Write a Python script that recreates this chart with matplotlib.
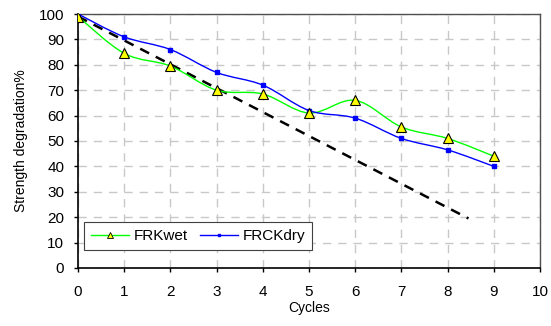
import matplotlib
matplotlib.use("Agg")
import matplotlib.pyplot as plt
from matplotlib.path import Path
from matplotlib.patches import PathPatch
from matplotlib.lines import Line2D
import numpy as np

cycles = [0, 1, 2, 3, 4, 5, 6, 7, 8, 9]
frk_wet = [99, 84.5, 79.5, 70, 68.5, 61, 66, 55.5, 51, 44]
frck_dry = [100, 91, 86, 77, 72, 62, 59, 51, 46.5, 40]
trend_x = [0, 8.45]
trend_y = [99, 19.5]

plt.rcParams['font.family'] = ['Liberation Sans', 'DejaVu Sans']


def smooth_path(xs, ys, t=1 / 6):
    # excel-like smoothed line: cubic bezier through every point
    pts = np.column_stack([xs, ys]).astype(float)
    n = len(pts)
    verts = [pts[0]]
    codes = [Path.MOVETO]
    for i in range(n - 1):
        p0 = pts[i - 1] if i > 0 else pts[i]
        p1 = pts[i]
        p2 = pts[i + 1]
        p3 = pts[i + 2] if i + 2 < n else pts[i + 1]
        c1 = p1 + (p2 - p0) * t
        c2 = p2 - (p3 - p1) * t
        verts += [c1, c2, p2]
        codes += [Path.CURVE4] * 3
    return Path(verts, codes)


fig = plt.figure(figsize=(5.51, 3.26), dpi=100)
ax = fig.add_axes([0.1416, 0.178, 0.8386, 0.779])

ax.add_patch(PathPatch(smooth_path(cycles, frk_wet), fill=False, edgecolor='#00ff00', lw=1.0, zorder=3))
ax.add_patch(PathPatch(smooth_path(cycles, frck_dry), fill=False, edgecolor='#0000ff', lw=1.0, zorder=3))
ax.plot(cycles, frck_dry, ls='none', marker='s', ms=2.5, color='#0000ff', zorder=4)
ax.plot(cycles, frk_wet, ls='none', marker='^', ms=7, mfc='#ffff00', mec='black', mew=0.8, zorder=5)
ax.plot(trend_x, trend_y, ls=(0, (4, 3)), color='black', lw=1.8, zorder=2)

ax.set_xlim(0, 10)
ax.set_ylim(0, 100)
ax.set_xticks(range(0, 11))
ax.set_yticks(range(0, 101, 10))
ax.grid(True, color='#c8c8c8', ls=(0, (6, 5)), lw=1.0)
ax.set_axisbelow(True)
ax.tick_params(direction='out', length=3, width=1, labelsize=11)
ax.tick_params(axis='x', pad=9)
ax.tick_params(axis='y', pad=7)

for s in ['left', 'bottom']:
    ax.spines[s].set_color('black')
    ax.spines[s].set_linewidth(1.2)
for s in ['top', 'right']:
    ax.spines[s].set_color('#505050')
    ax.spines[s].set_linewidth(1.0)

ax.set_xlabel('Cycles', fontsize=10, labelpad=2)
ax.set_ylabel('Strength degradation%', fontsize=10, labelpad=8)

handles = [
    Line2D([], [], color='#00ff00', lw=1.0, marker='^', ms=5, mfc='#ffff00', mec='black', mew=0.6),
    Line2D([], [], color='#0000ff', lw=1.0, marker='s', ms=2),
]
leg = ax.legend(handles, ['FRKwet', 'FRCKdry'], ncol=2, loc='lower left',
                bbox_to_anchor=(0.013, 0.07), fontsize=11, fancybox=False,
                edgecolor='#404040', framealpha=1, handlelength=2.5,
                columnspacing=0.8, handletextpad=0.3, borderpad=0.45, borderaxespad=0)
leg.get_frame().set_linewidth(0.8)

fig.savefig('out.png', dpi=100)
